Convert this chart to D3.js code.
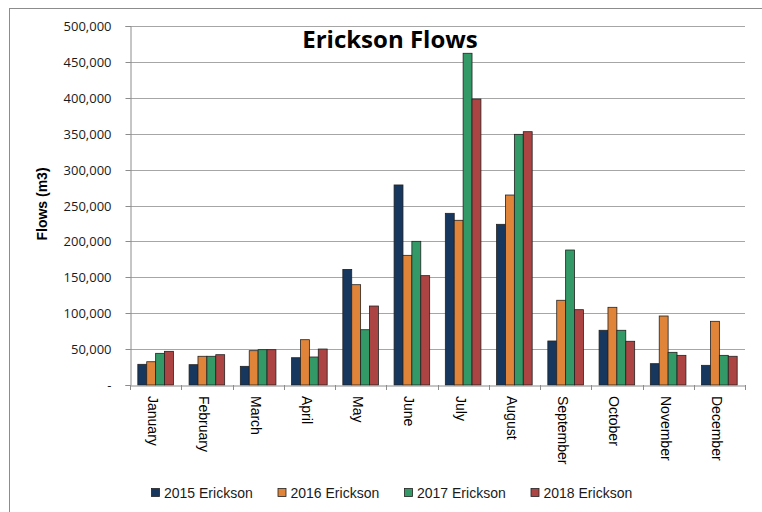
<!DOCTYPE html>
<html><head><meta charset="utf-8">
<script src="https://cdn.jsdelivr.net/npm/d3@7"></script>
<style>body{margin:0;background:#fff}svg{display:block}</style>
</head><body>
<svg id="c" width="762" height="512"></svg>
<script>
const months = ["January","February","March","April","May","June","July","August","September","October","November","December"];
const seriesNames = ["2015 Erickson","2016 Erickson","2017 Erickson","2018 Erickson"];
const s2015 = [28800,28300,26000,38000,161000,278600,239100,223800,61300,76200,29700,27400];
const s2016 = [32400,40000,47800,63100,139700,180600,229400,264600,118000,108200,96100,88700];
const s2017 = [44100,40000,49200,39000,77000,200100,462000,349100,188000,76200,45500,41300];
const s2018 = [46900,42200,49200,50100,110000,152300,398300,352800,104900,60900,41300,40000];
const yTicks = [0,50000,100000,150000,200000,250000,300000,350000,400000,450000,500000];
const colors = ["#17375E","#E0843A","#339966","#AC4444"];

const series = [s2015,s2016,s2017,s2018];
const svg = d3.select("#c");
const pLeft = 130, pRight = 745, pTop = 26, pBottom = 385;

svg.append("rect").attr("x",9.5).attr("y",8.5).attr("width",800).attr("height",600)
  .attr("fill","none").attr("stroke","#8c8c8c").attr("stroke-width",1);

const x = d3.scaleBand().domain(months).range([pLeft,pRight]).paddingInner(0).paddingOuter(0);
const y = d3.scaleLinear().domain([0,500000]).range([pBottom,pTop]);
const xs = d3.scaleBand().domain(d3.range(4)).range([0,x.bandwidth()]).paddingOuter(0.88).paddingInner(0);

// gridlines
svg.append("g").selectAll("line").data(yTicks.filter(d=>d>0)).join("line")
  .attr("x1",pLeft).attr("x2",pRight).attr("y1",d=>Math.round(y(d))+0.5).attr("y2",d=>Math.round(y(d))+0.5)
  .attr("stroke","#a6a6a6");

// y axis
const yAxis = d3.axisLeft(y).tickValues(yTicks).tickSize(5).tickPadding(14)
  .tickFormat(d=> d===0 ? "-" : d3.format(",")(d));
const gy = svg.append("g").attr("transform",`translate(${pLeft+0.5},0)`).call(yAxis);
gy.select(".domain").attr("stroke","#8c8c8c");
gy.selectAll(".tick line").attr("stroke","#8c8c8c");
gy.selectAll("text").attr("font-family","Open Sans, sans-serif").attr("font-size",13).attr("fill","#1a1a1a");
gy.selectAll(".tick").attr("transform",d=>`translate(0,${Math.round(y(d))+0.5})`);

// bars
const groups = svg.append("g").selectAll("g").data(series).join("g").attr("fill",(d,i)=>colors[i]);
groups.each(function(vals, si){
  d3.select(this).selectAll("rect").data(vals).join("rect")
    .attr("x",(v,i)=>x(months[i])+xs(si))
    .attr("width",xs.bandwidth())
    .attr("y",v=>y(v))
    .attr("height",v=>pBottom-y(v))
    .attr("stroke","#222").attr("stroke-width",0.8);
});

// x axis
const xAxis = d3.axisBottom(x).tickSize(0).tickFormat("");
const gx = svg.append("g").attr("transform",`translate(0,${pBottom+0.5})`).call(xAxis);
gx.select(".domain").attr("stroke","#8c8c8c");
const tickPos = d3.range(13).map(i=> pLeft + i*x.step());
svg.append("g").selectAll("line").data(tickPos).join("line")
  .attr("x1",d=>Math.round(d)+0.5).attr("x2",d=>Math.round(d)+0.5).attr("y1",pBottom).attr("y2",pBottom+5)
  .attr("stroke","#8c8c8c");
svg.append("g").selectAll("text").data(months).join("text")
  .attr("transform",d=>`translate(${x(d)+x.bandwidth()/2-2.5},${pBottom+11}) rotate(90)`)
  .attr("dy","0.35em").attr("font-family","Liberation Sans, Arial, sans-serif").attr("font-size",14).attr("fill","#000")
  .text(d=>d);

// y axis title
svg.append("text").attr("transform",`translate(46.5,204) rotate(-90)`).attr("text-anchor","middle")
  .attr("font-family","Liberation Sans, Arial, sans-serif").attr("font-weight","bold").attr("font-size",14).text("Flows (m3)");

// title
svg.append("text").attr("x",390).attr("y",48).attr("text-anchor","middle")
  .attr("font-family","Open Sans, sans-serif").attr("font-weight","bold").attr("font-size",24).text("Erickson Flows");

// legend
const lg = svg.append("g").selectAll("g").data(seriesNames).join("g")
  .attr("transform",(d,i)=>`translate(${151+i*126.5},493)`);
lg.append("rect").attr("x",0.5).attr("y",-4.5).attr("width",8).attr("height",8)
  .attr("fill",(d,i)=>colors[i]).attr("stroke","#222").attr("stroke-width",0.8);
lg.append("text").attr("x",13).attr("dy","0.36em").attr("font-family","Liberation Sans, Arial, sans-serif")
  .attr("font-size",14).attr("fill","#1a1a1a").text(d=>d);
</script>
</body></html>
